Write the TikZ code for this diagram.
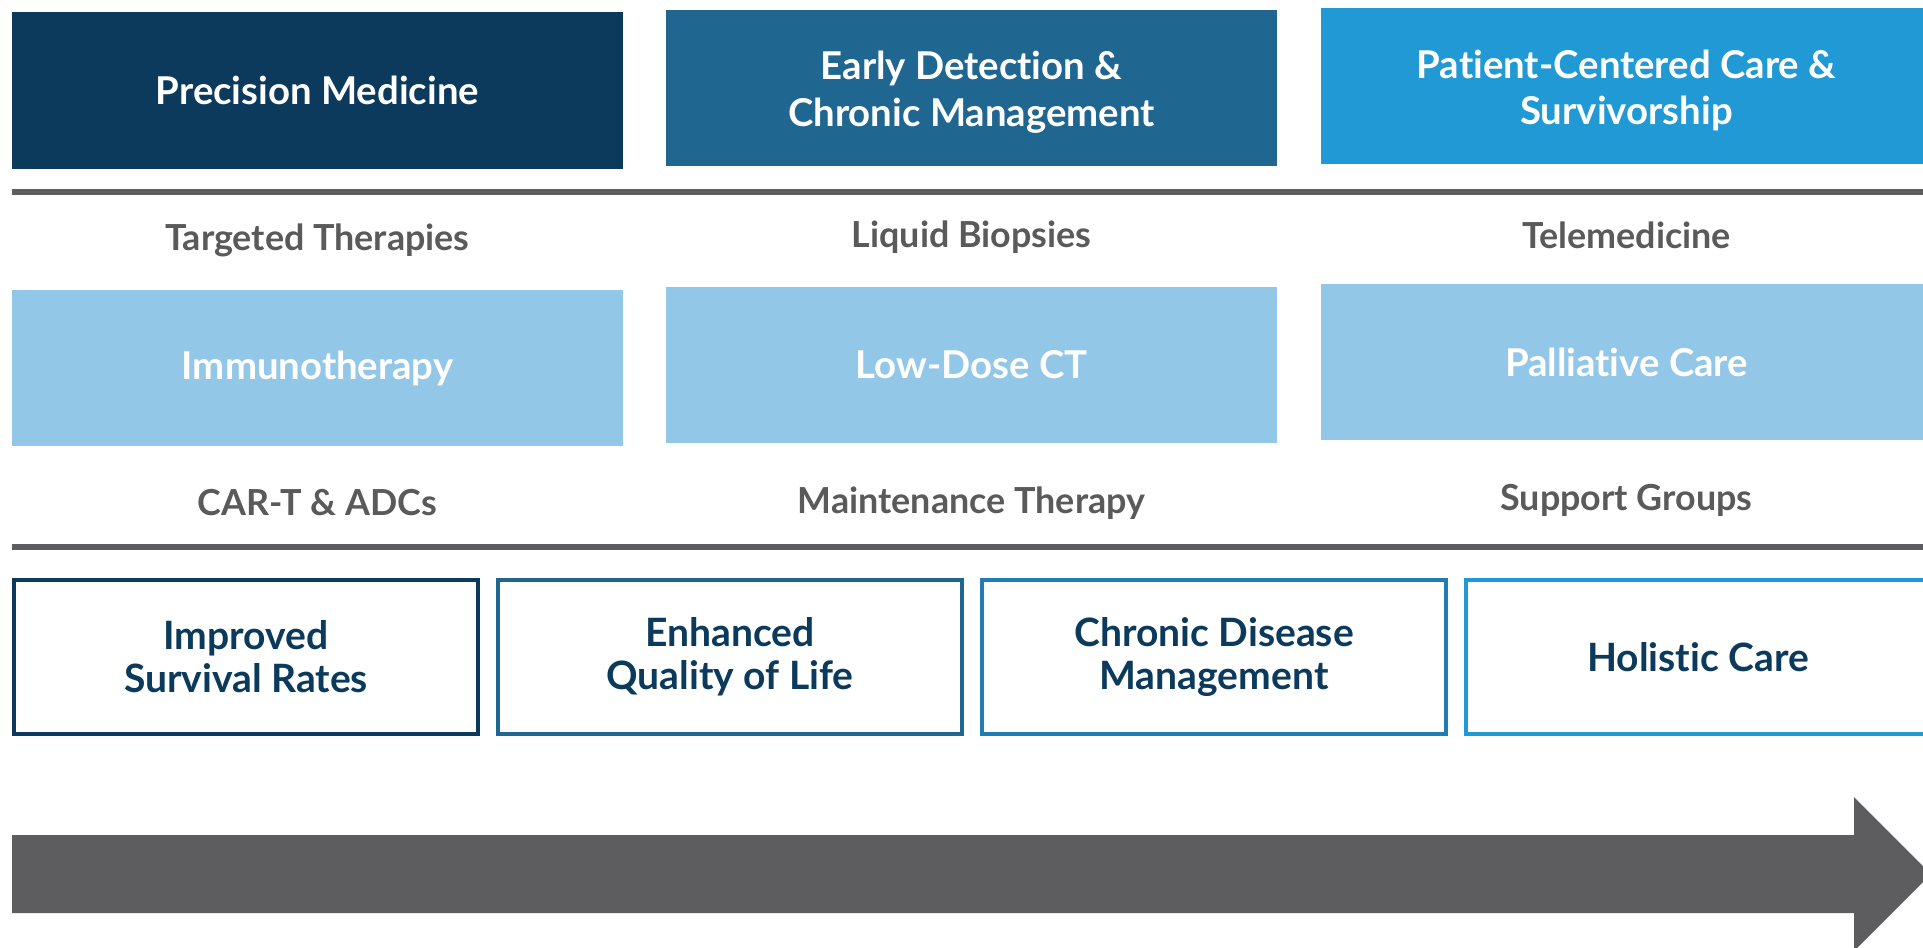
\documentclass[tikz,border=0pt]{standalone}
\usepackage{fontspec}
\setmainfont{Lato}[Ligatures=NoCommon]
\usetikzlibrary{arrows.meta}
\definecolor{navy}{HTML}{0B3A5C}
\definecolor{midblue}{HTML}{1F6690}
\definecolor{brightblue}{HTML}{2199D5}
\definecolor{paleblue}{HTML}{93C7E7}
\definecolor{steelblue}{HTML}{1F7DB3}
\definecolor{slate}{HTML}{5D5D5F}
\definecolor{labelgray}{HTML}{5A5A5A}
\newcommand{\toplift}{\rule{0pt}{10.5pt}}

\begin{document}
\begin{tikzpicture}[x=0.01cm, y=-0.01cm,
    topbox/.style={minimum width=6.11cm, minimum height=1.56cm, inner sep=0pt, align=center,
        text=white, font=\fontsize{10.9}{13.1}\selectfont\bfseries},
    lightbox/.style={topbox, fill=paleblue},
    tag/.style={text=labelgray, font=\fontsize{10.2}{12}\selectfont\bfseries},
    goal/.style={draw, line width=0.035cm, fill=white, minimum width=4.64cm, minimum height=1.54cm,
        inner sep=0pt, align=center, text=navy, font=\fontsize{11.1}{12.2}\selectfont\bfseries},
    sepline/.style={slate, line width=0.06cm}]
            \useasboundingbox (0,0) rectangle (1923,947);
            \clip (0,0) rectangle (1923,947);

            \node[topbox, fill=navy] (precision) at (317.5,90.5) {Precision Medicine};
            \node[topbox, fill=midblue] (early) at (971.5,88) {\toplift Early Detection \&\\Chronic Management};
            \node[topbox, fill=brightblue] (patient) at (1626.5,86) {\toplift Patient-Centered Care \&\\Survivorship};

            \draw[sepline] (12,192) -- (1923,192);

            \node[tag] (targeted) at (317.5,240) {Targeted Therapies};
            \node[tag] (liquid) at (971.5,237) {Liquid Biopsies};
            \node[tag] (tele) at (1626.5,235) {Telemedicine};

            \node[lightbox] (immuno) at (317.5,368) {Immunotherapy};
            \node[lightbox] (lowdose) at (971.5,365) {Low-Dose CT};
            \node[lightbox] (palliative) at (1626.5,362) {Palliative Care};

            \node[tag] (cart) at (317.5,503) {CAR-T \& ADCs};
            \node[tag] (maint) at (971.5,503) {Maintenance Therapy};
            \node[tag] (support) at (1626.5,500) {Support Groups};

            \draw[sepline] (12,547) -- (1923,547);

            \node[goal, draw=navy] (survival) at (246,657) {Improved\\Survival Rates};
            \node[goal, draw=midblue] (quality) at (730,657) {Enhanced\\Quality of Life};
            \node[goal, draw=steelblue] (chronic) at (1214,657) {Chronic Disease\\Management};
            \node[goal, draw=brightblue] (holistic) at (1698,657) {Holistic Care};

            \fill[slate] (12,835) -- (1854,835) -- (1854,797) -- (1931,874) -- (1854,951)
                -- (1854,913) -- (12,913) -- cycle;
        \end{tikzpicture}
\end{document}
